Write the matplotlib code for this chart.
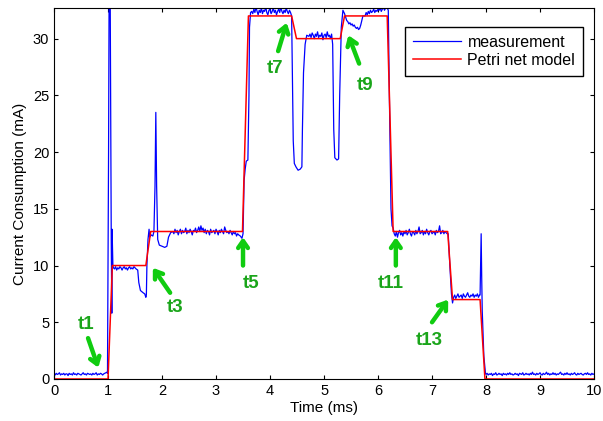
import numpy as np
import matplotlib.pyplot as plt

plt.rcParams['font.family'] = ['Liberation Sans', 'DejaVu Sans']

# Petri net model (step profile)
model_t = [0.0, 1.0, 1.08, 1.70, 1.79, 3.49, 3.60, 4.40, 4.49, 5.30, 5.38,
           6.17, 6.28, 7.29, 7.38, 7.89, 7.98, 10.0]
model_i = [0, 0, 10, 10, 13, 13, 32, 32, 30, 30, 32,
           32, 13, 13, 7, 7, 0, 0]

base0 = [0.45, 0.35, 0.5, 0.4, 0.45, 0.55, 0.35, 0.45, 0.4, 0.5, 0.35, 0.45,
         0.45, 0.3, 0.5, 0.4, 0.45, 0.35, 0.55, 0.4, 0.45, 0.35, 0.5, 0.45,
         0.4, 0.35, 0.45, 0.55, 0.4, 0.45, 0.35, 0.5, 0.45, 0.4, 0.45, 0.35,
         0.5, 0.4, 0.45, 0.55, 0.35, 0.45, 0.4, 0.5, 0.45, 0.35, 0.45, 0.5,
         0.55, 0.6]
lvl10 = [9.8, 9.7, 9.9, 9.6, 9.8, 9.7, 9.9, 9.8, 9.6, 9.8, 9.9, 9.7, 9.8, 9.6,
         9.8, 9.9, 9.7, 9.8, 9.7, 9.9, 9.8, 9.7]
lvl13a = [13.0, 12.8, 13.2, 12.9, 13.1, 12.7, 13.0, 13.2, 12.8, 13.1, 12.9,
          13.0, 13.3, 12.8, 13.1, 12.9, 13.2, 13.0, 12.7, 13.1, 13.0, 13.3,
          12.9, 13.1, 13.4, 13.0, 13.5, 13.1, 13.3, 12.9, 13.2, 12.8, 13.1,
          13.0, 12.7, 13.2, 12.9, 13.0, 13.1, 12.8, 13.2, 13.0, 12.7, 13.1,
          12.9, 13.2, 13.0, 12.8, 13.4, 13.1, 12.9, 13.0, 12.8, 13.1, 12.9,
          12.7, 13.0, 12.8, 12.9, 12.6, 12.8, 12.7]
lvl32a = [32.4, 32.2, 32.6, 32.3, 32.8, 32.4, 32.1, 32.5, 32.3, 32.7, 32.2,
          32.5, 32.4, 32.8, 32.3, 32.1, 32.5, 32.6, 32.2, 32.4, 32.7, 32.3,
          32.5, 32.1, 32.4, 32.6, 32.3, 32.8, 32.4, 32.2, 32.5, 32.3, 32.7,
          32.4, 32.2, 32.5, 32.3]
lvl30 = [30.2, 30.4, 30.1, 30.5, 30.3, 30.0, 30.4, 30.2, 30.6, 30.1, 30.3,
         30.2, 30.5, 29.9, 30.3, 30.4, 30.1, 30.6, 30.2, 30.3, 30.0, 30.4]
dip31 = [31.9, 31.6, 31.5, 31.3, 31.4, 31.2, 31.3, 31.1, 31.2, 31.0, 30.9,
         31.0, 30.8, 30.9, 31.2, 31.6, 32.0]
lvl32b = [32.0, 32.3, 32.1, 32.4, 32.2, 32.5, 32.3, 32.4, 32.6, 32.3, 32.5,
          32.4, 32.6, 32.5, 32.7, 32.4, 32.6, 32.8, 32.5, 32.7, 32.9, 32.6]
lvl13b = [13.3, 12.8, 12.6, 13.0, 12.5, 12.9, 13.1, 12.7, 12.9, 12.6, 13.0,
          12.8, 13.1, 12.7, 12.9, 13.2, 12.8, 12.6, 13.0, 12.9, 12.7, 13.1,
          12.8, 13.0, 13.4, 12.8, 12.9, 13.1, 12.7, 13.0, 12.8, 13.2, 12.9,
          12.7, 13.0, 13.1, 12.8, 12.9, 13.0, 12.7, 13.1, 12.9, 13.0, 13.5,
          12.8, 12.9, 13.1, 12.8, 13.0, 12.9, 12.8]
lvl7 = [7.2, 7.4, 7.1, 7.3, 7.5, 7.2, 7.3, 7.4, 7.1, 7.5, 7.3, 7.2, 7.4, 7.6,
        7.3, 7.2, 7.4, 7.3, 7.5, 7.2, 7.4, 7.3, 7.5, 7.2, 7.4]
base1 = [0.4, 0.5, 0.35, 0.45, 0.4, 0.5, 0.3, 0.45, 0.4, 0.55, 0.35, 0.4,
         0.5, 0.4, 0.45, 0.3, 0.5, 0.4, 0.45, 0.35, 0.5, 0.4, 0.55, 0.4,
         0.45, 0.35, 0.4, 0.5, 0.4, 0.45, 0.3, 0.5, 0.45, 0.4, 0.55, 0.35,
         0.4, 0.5, 0.4, 0.45, 0.35, 0.5, 0.4, 0.6, 0.4, 0.45, 0.35, 0.5, 0.4,
         0.45, 0.55, 0.4, 0.35, 0.5, 0.4, 0.45, 0.6, 0.4, 0.5, 0.35, 0.45,
         0.4, 0.55, 0.4, 0.5, 0.35, 0.45, 0.4, 0.5, 0.6, 0.4, 0.45, 0.35, 0.5,
         0.4, 0.55, 0.4, 0.45, 0.35, 0.5, 0.4, 0.45, 0.55, 0.4, 0.35, 0.5,
         0.4, 0.45, 0.5, 0.4, 0.35, 0.45, 0.5, 0.4, 0.55, 0.4, 0.45, 0.35,
         0.5, 0.4, 0.45]

# transitions between the flat parts: (time, value)
tr_1 = [(0.99, 0.5), (1.01, 20), (1.02, 34), (1.04, 34), (1.06, 12),
        (1.07, 5.8), (1.075, 13.2), (1.09, 10)]
tr_2 = [(1.55, 9.6), (1.57, 8.5), (1.60, 7.8), (1.65, 7.6), (1.68, 7.5),
        (1.70, 7.2), (1.71, 7.4), (1.72, 10), (1.74, 12.3), (1.76, 13.2),
        (1.77, 12.5), (1.80, 12.7), (1.83, 12.6), (1.85, 13.0), (1.87, 17),
        (1.885, 23.5), (1.90, 17), (1.92, 12.3), (1.95, 11.8), (2.00, 11.7),
        (2.05, 11.6), (2.09, 11.7), (2.12, 12.5), (2.16, 12.9)]
tr_3 = [(3.45, 12.6), (3.48, 12.4), (3.50, 12.8), (3.52, 17.5), (3.54, 18.5),
        (3.56, 19.2), (3.59, 19.3), (3.61, 25), (3.62, 31), (3.64, 32.3)]
tr_4 = [(4.40, 32.0), (4.42, 25), (4.43, 21), (4.45, 19), (4.48, 18.7),
        (4.52, 18.4), (4.56, 18.5), (4.59, 18.7), (4.60, 22), (4.62, 27),
        (4.65, 29.5), (4.68, 30.3)]
tr_5 = [(5.16, 29.5), (5.18, 22), (5.20, 19.5), (5.24, 19.3), (5.27, 19.4),
        (5.29, 25), (5.32, 31), (5.35, 32.5), (5.38, 32.2)]
tr_6 = [(6.19, 32.5), (6.21, 25), (6.24, 15), (6.26, 13.5)]
tr_7 = [(7.30, 12.8), (7.33, 10), (7.36, 7.5), (7.38, 6.7)]
tr_8 = [(7.89, 7.4), (7.91, 12.8), (7.92, 9), (7.93, 6), (7.96, 2),
        (7.99, 0.5)]

flat = [(0.0, 0.98, base0), (1.10, 1.52, lvl10), (2.20, 3.42, lvl13a),
        (3.66, 4.38, lvl32a), (4.72, 5.14, lvl30), (5.40, 5.72, dip31),
        (5.76, 6.18, lvl32b), (6.28, 7.28, lvl13b), (7.40, 7.88, lvl7),
        (8.0, 10.0, base1)]
trans = [tr_1, tr_2, tr_3, tr_4, tr_5, [], tr_6, tr_7, tr_8, []]

meas_t, meas_i = [], []
for (t0, t1, vals), tr in zip(flat, trans):
    meas_t += list(np.linspace(t0, t1, len(vals)))
    meas_i += vals
    meas_t += [p[0] for p in tr]
    meas_i += [p[1] for p in tr]

# annotations: label, text pos, arrow start, arrow tip
labels = ["t1", "t3", "t5", "t7", "t9", "t11", "t13"]
text_xy = [(0.60, 4.8), (2.25, 6.3), (3.64, 8.4), (4.09, 27.4), (5.76, 25.9),
           (6.24, 8.4), (6.94, 3.4)]
arrow_from = [(0.63, 3.6), (2.15, 7.6), (3.50, 10.0), (4.15, 28.9),
              (5.65, 27.8), (6.33, 10.0), (7.00, 5.0)]
arrow_to = [(0.82, 1.0), (1.83, 9.8), (3.50, 12.5), (4.31, 31.4),
            (5.45, 30.3), (6.33, 12.5), (7.30, 7.0)]

fig = plt.figure(figsize=(6.03, 4.21), dpi=100)
ax = fig.add_axes([0.0896, 0.0998, 0.8955, 0.8812])

ax.plot(meas_t, meas_i, color='#0000ff', lw=0.9, label='measurement')
ax.plot(model_t, model_i, color='#ff0000', lw=1.1, label='Petri net model')

for lab, txy, a0, a1 in zip(labels, text_xy, arrow_from, arrow_to):
    ax.annotate('', xy=a1, xytext=a0,
                arrowprops=dict(arrowstyle='->,head_length=0.5,head_width=0.35',
                                color='#10cc10', lw=3.2, shrinkA=0, shrinkB=0))
    ax.text(txy[0], txy[1], lab, color='#1aa51a', fontsize=13.5,
            fontweight='bold', ha='center', va='center')

ax.set_xlim(0, 10)
ax.set_ylim(0, 32.7)
ax.set_xticks(range(0, 11))
ax.set_yticks([0, 5, 10, 15, 20, 25, 30])
ax.tick_params(direction='in', top=True, right=True, labelsize=10.5,
               length=3)
ax.set_xlabel('Time (ms)', fontsize=11, labelpad=2)
ax.set_ylabel('Current Consumption (mA)', fontsize=11, labelpad=4)

leg = ax.legend(loc='upper right', bbox_to_anchor=(0.98, 0.95),
                fontsize=11.5, fancybox=False, handlelength=3.0,
                handletextpad=0.4, borderaxespad=0, framealpha=1,
                borderpad=0.5, labelspacing=0.2)
leg.get_frame().set_edgecolor('black')
leg.get_frame().set_linewidth(1.0)

fig.savefig('out.png', dpi=100)
